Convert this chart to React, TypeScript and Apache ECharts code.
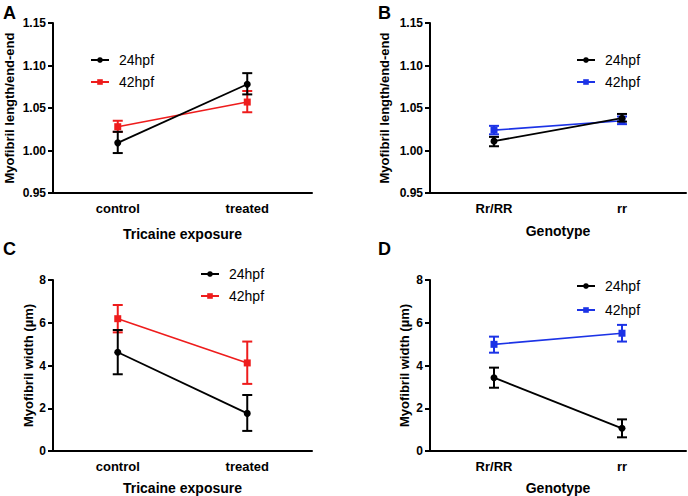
import React, { useEffect, useRef } from "react";
import * as echarts from "echarts";

const tricaineCats = ["control", "treated"];
const genotypeCats = ["Rr/RR", "rr"];
const seriesNames = ["24hpf", "42hpf"];

// Panel A: myofibril length/end-end vs tricaine
const aMean24 = [1.009, 1.078];
const aLow24 = [0.997, 1.066];
const aHigh24 = [1.022, 1.091];
const aMean42 = [1.028, 1.057];
const aLow42 = [1.022, 1.045];
const aHigh42 = [1.035, 1.07];

// Panel B: myofibril length/end-end vs genotype
const bMean24 = [1.011, 1.038];
const bLow24 = [1.005, 1.034];
const bHigh24 = [1.016, 1.043];
const bMean42 = [1.024, 1.035];
const bLow42 = [1.019, 1.031];
const bHigh42 = [1.029, 1.04];

// Panel C: myofibril width vs tricaine
const cMean24 = [4.62, 1.76];
const cLow24 = [3.59, 0.94];
const cHigh24 = [5.66, 2.62];
const cMean42 = [6.19, 4.12];
const cLow42 = [5.55, 3.14];
const cHigh42 = [6.83, 5.12];

// Panel D: myofibril width vs genotype
const dMean24 = [3.43, 1.06];
const dLow24 = [2.96, 0.64];
const dHigh24 = [3.9, 1.48];
const dMean42 = [4.99, 5.51];
const dLow42 = [4.6, 5.12];
const dHigh42 = [5.35, 5.9];

const FONT = "Liberation Sans, Arial, Helvetica, sans-serif";
const BLACK = "#000000";
const RED = "#ee1c1c";
const BLUE = "#1c33e6";

export default function App() {
  const ref = useRef<HTMLDivElement>(null);

  useEffect(() => {
    if (!ref.current) return;
    const chart = echarts.init(ref.current, undefined, { renderer: "svg" });

    const grids = [
      { left: 53, top: 23, width: 259, height: 170 },
      { left: 430, top: 23, width: 256, height: 170 },
      { left: 53, top: 280, width: 259, height: 171 },
      { left: 430, top: 280, width: 256, height: 171 },
    ];

    const axisLine = { lineStyle: { color: BLACK, width: 2 } };
    const axisTick = { length: 5, lineStyle: { color: BLACK, width: 2 } };

    const xNames = ["Tricaine exposure", "Genotype", "Tricaine exposure", "Genotype"];
    const xCats = [tricaineCats, genotypeCats, tricaineCats, genotypeCats];
    const xGaps = [34, 31, 30, 30];
    const xAxes = grids.map((_, i) => ({
      type: "category",
      gridIndex: i,
      data: xCats[i],
      boundaryGap: true,
      axisLine,
      axisTick: { ...axisTick, alignWithLabel: true },
      axisLabel: { color: BLACK, fontSize: 13, fontWeight: "bold", fontFamily: FONT, margin: 9 },
      name: xNames[i],
      nameLocation: "middle",
      nameGap: xGaps[i],
      nameTextStyle: { color: BLACK, fontSize: 14, fontWeight: "bold", fontFamily: FONT, verticalAlign: "top" },
      splitLine: { show: false },
    }));

    const yNames = [
      "Myofibril length/end-end",
      "Myofibril length/end-end",
      "Myofibril width (µm)",
      "Myofibril width (µm)",
    ];
    const yGaps = [37, 39, 18, 19];
    const yAxes = grids.map((_, i) => {
      const isLen = i < 2;
      return {
        type: "value",
        gridIndex: i,
        min: isLen ? 0.95 : 0,
        max: isLen ? 1.15 : 8,
        interval: isLen ? 0.05 : 2,
        axisLine: { ...axisLine, show: true },
        axisTick: { ...axisTick, show: true },
        axisLabel: {
          color: BLACK,
          fontSize: 12,
          fontWeight: "bold",
          fontFamily: FONT,
          margin: 7,
          formatter: (v: number) => (isLen ? v.toFixed(2) : String(v)),
        },
        splitLine: { show: false },
        name: yNames[i],
        nameLocation: "middle",
        nameGap: yGaps[i],
        nameRotate: 90,
        nameTextStyle: { color: BLACK, fontSize: 13, fontWeight: "bold", fontFamily: FONT, verticalAlign: "bottom" },
      };
    });

    const errRender = (color: string) => (params: any, api: any) => {
      const x = api.value(0);
      const lo = api.coord([x, api.value(1)]);
      const hi = api.coord([x, api.value(2)]);
      const w = 5;
      const st = { stroke: color, lineWidth: 2 };
      return {
        type: "group",
        children: [
          { type: "line", shape: { x1: lo[0], y1: lo[1], x2: hi[0], y2: hi[1] }, style: st },
          { type: "line", shape: { x1: lo[0] - w, y1: lo[1], x2: lo[0] + w, y2: lo[1] }, style: st },
          { type: "line", shape: { x1: hi[0] - w, y1: hi[1], x2: hi[0] + w, y2: hi[1] }, style: st },
        ],
      };
    };

    const panels = [
      { m24: aMean24, l24: aLow24, h24: aHigh24, m42: aMean42, l42: aLow42, h42: aHigh42, c42: RED },
      { m24: bMean24, l24: bLow24, h24: bHigh24, m42: bMean42, l42: bLow42, h42: bHigh42, c42: BLUE },
      { m24: cMean24, l24: cLow24, h24: cHigh24, m42: cMean42, l42: cLow42, h42: cHigh42, c42: RED },
      { m24: dMean24, l24: dLow24, h24: dHigh24, m42: dMean42, l42: dLow42, h42: dHigh42, c42: BLUE },
    ];

    const series: any[] = [];
    panels.forEach((p, i) => {
      series.push({
        type: "custom",
        xAxisIndex: i,
        yAxisIndex: i,
        renderItem: errRender(p.c42),
        data: p.m42.map((_, k) => [k, p.l42[k], p.h42[k]]),
        encode: { x: 0, y: [1, 2] },
        z: 2,
      });
      series.push({
        type: "line",
        name: seriesNames[1],
        xAxisIndex: i,
        yAxisIndex: i,
        data: p.m42,
        symbol: "rect",
        symbolSize: 7,
        itemStyle: { color: p.c42 },
        lineStyle: { color: p.c42, width: 1.6 },
        z: 3,
      });
      series.push({
        type: "custom",
        xAxisIndex: i,
        yAxisIndex: i,
        renderItem: errRender(BLACK),
        data: p.m24.map((_, k) => [k, p.l24[k], p.h24[k]]),
        encode: { x: 0, y: [1, 2] },
        z: 4,
      });
      series.push({
        type: "line",
        name: seriesNames[0],
        xAxisIndex: i,
        yAxisIndex: i,
        data: p.m24,
        symbol: "circle",
        symbolSize: 7,
        itemStyle: { color: BLACK },
        lineStyle: { color: BLACK, width: 1.8 },
        z: 5,
      });
    });

    const legendPos = [
      { left: 90, top: 53, gap: 8, c: RED },
      { left: 576, top: 53, gap: 8, c: BLUE },
      { left: 200, top: 267, gap: 8, c: RED },
      { left: 576, top: 279, gap: 10, c: BLUE },
    ];
    const legends = legendPos.map((lp) => ({
      left: lp.left,
      top: lp.top,
      orient: "vertical",
      itemWidth: 18,
      itemHeight: 7,
      itemGap: lp.gap,
      padding: 0,
      selectedMode: false,
      textStyle: { color: BLACK, fontSize: 14, fontFamily: FONT, padding: [0, 0, 0, 5] },
      data: [
        { name: seriesNames[0], itemStyle: { color: BLACK }, lineStyle: { color: BLACK, width: 2 } },
        { name: seriesNames[1], itemStyle: { color: lp.c }, lineStyle: { color: lp.c, width: 2 } },
      ],
    }));

    const labelStyle = (t: string, x: number, y: number) => ({
      type: "text",
      left: x,
      top: y,
      style: { text: t, fill: BLACK, fontSize: 18, fontWeight: "bold", fontFamily: FONT },
    });

    chart.setOption({
      animation: false,
      backgroundColor: "#ffffff",
      grid: grids,
      xAxis: xAxes,
      yAxis: yAxes,
      legend: legends,
      series,
      graphic: [
        labelStyle("A", 3, 4),
        labelStyle("B", 378, 4),
        labelStyle("C", 3, 240),
        labelStyle("D", 378, 240),
      ],
    });

    return () => chart.dispose();
  }, []);

  return (
    <div
      ref={ref}
      style={{ position: "fixed", left: 0, top: 0, width: 688, height: 496, background: "#fff" }}
    />
  );
}
